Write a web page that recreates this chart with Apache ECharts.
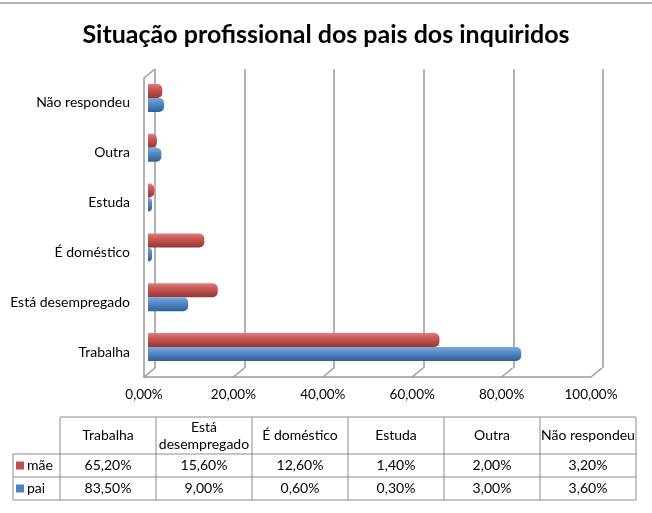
<!DOCTYPE html>
<html><head><meta charset="utf-8">
<script src="https://cdn.jsdelivr.net/npm/echarts@6/dist/echarts.min.js"></script>
<style>html,body{margin:0;padding:0;background:#fff}#c{width:652px;height:513px}</style>
</head><body><div id="c"></div>
<script>
const categories = ['Trabalha', 'Está desempregado', 'É doméstico', 'Estuda', 'Outra', 'Não respondeu'];
const maeValues = [65.2, 15.6, 12.6, 1.4, 2.0, 3.2];
const paiValues = [83.5, 9.0, 0.6, 0.3, 3.0, 3.6];
const xTicks = [0, 20, 40, 60, 80, 100];
const seriesNames = ['mãe', 'pai'];
const tableHeaders = ['Trabalha', 'Está\ndesempregado', 'É doméstico', 'Estuda', 'Outra', 'Não respondeu'];

const FONT = 'Lato';
const RED = '#C0504D', BLUE = '#4F81BD';
const fmt = v => v.toFixed(2).replace('.', ',') + '%';

function cyl(c1, c2, c3) {
  return {type: 'linear', x: 0, y: 0, x2: 0, y2: 1, colorStops: [
    {offset: 0, color: c1}, {offset: 0.35, color: c2}, {offset: 1, color: c3}]};
}

const chart = echarts.init(document.getElementById('c'), null, {renderer: 'canvas'});

const DX = 11, DY = -9;

const tbl = [];
const colX0 = 60, colW = 96, leftX = 13;
const rowY = [417, 454, 477, 500];
const lineStyle = {stroke: '#8c8c8c', lineWidth: 1};
function ln(x1, y1, x2, y2) { tbl.push({type: 'line', shape: {x1, y1, x2, y2}, style: lineStyle, silent: true}); }
const tableRight = colX0 + colW * categories.length;
ln(colX0, rowY[0], tableRight, rowY[0]);
ln(leftX, rowY[1], tableRight, rowY[1]);
ln(leftX, rowY[2], tableRight, rowY[2]);
ln(leftX, rowY[3], tableRight, rowY[3]);
ln(leftX, rowY[1], leftX, rowY[3]);
for (let i = 0; i <= categories.length; i++) ln(colX0 + colW * i, rowY[0], colX0 + colW * i, rowY[3]);
tableHeaders.forEach((h, i) => {
  tbl.push({type: 'text', x: colX0 + colW * i + colW / 2, y: (rowY[0] + rowY[1]) / 2,
    style: {text: h, font: '14px ' + FONT, fill: '#000', align: 'center', verticalAlign: 'middle', lineHeight: 17}, silent: true});
});
[maeValues, paiValues].forEach((vals, r) => {
  const yc = (rowY[r + 1] + rowY[r + 2]) / 2;
  tbl.push({type: 'rect', shape: {x: 16, y: yc - 4, width: 8, height: 8}, style: {fill: r === 0 ? RED : BLUE}, silent: true});
  tbl.push({type: 'text', x: 27, y: yc, style: {text: seriesNames[r], font: '14px ' + FONT, fill: '#000', verticalAlign: 'middle'}, silent: true});
  vals.forEach((v, i) => {
    tbl.push({type: 'text', x: colX0 + colW * i + colW / 2, y: yc,
      style: {text: fmt(v), font: '14px ' + FONT, fill: '#000', align: 'center', verticalAlign: 'middle'}, silent: true});
  });
});
tbl.push({type: 'line', shape: {x1: 0, y1: 3, x2: 652, y2: 3}, style: {stroke: '#999', lineWidth: 1.5}, silent: true});

const gridFront = {left: 144, top: 78, width: 447, height: 299};
const gridMid = {left: 148, top: 73, width: 447, height: 299};
const gridBack = {left: 155, top: 69, width: 448, height: 299};

chart.setOption({
  backgroundColor: '#fff',
  animation: false,
  title: {text: 'Situação profissional dos pais dos inquiridos', left: 'center', top: 17,
    textStyle: {fontFamily: FONT, fontWeight: 'bold', fontSize: 25, color: '#000'}},
  grid: [gridFront, gridMid, gridBack],
  xAxis: [
    {gridIndex: 0, type: 'value', min: 0, max: 100, interval: 20,
      axisLabel: {formatter: fmt, fontFamily: FONT, fontSize: 13.5, color: '#000', margin: 11},
      axisLine: {show: true, lineStyle: {color: '#999', width: 1.5}}, axisTick: {show: false}, splitLine: {show: false}},
    {gridIndex: 1, type: 'value', min: 0, max: 100, show: false},
    {gridIndex: 2, type: 'value', min: 0, max: 100, interval: 20, axisLabel: {show: false},
      axisLine: {show: false}, axisTick: {show: false}, splitLine: {show: true, lineStyle: {color: '#999', width: 1.5}}}
  ],
  yAxis: [
    {gridIndex: 0, type: 'category', data: categories, axisLine: {show: true, lineStyle: {color: '#999', width: 1.5}},
      axisTick: {show: false}, axisLabel: {fontFamily: FONT, fontSize: 14, color: '#000', margin: 14}},
    {gridIndex: 1, type: 'category', data: categories, show: false},
    {gridIndex: 2, type: 'category', data: categories, show: false}
  ],
  series: [
    {type: 'custom', xAxisIndex: 0, yAxisIndex: 0, data: xTicks.map(v => [v, 0]), silent: true, z: 1,
      renderItem: function (params, api) {
        const p = api.coord([api.value(0), 0]);
        const hb = api.size([0, 1])[1] / 2;
        const yb = p[1] + hb;
        const children = [{type: 'line', shape: {x1: p[0], y1: yb, x2: p[0] + DX, y2: yb + DY},
          style: {stroke: '#999', lineWidth: 1.5}}];
        if (api.value(0) === 0) {
          const yt = yb - api.size([0, 1])[1] * categories.length;
          children.push({type: 'line', shape: {x1: p[0], y1: yt, x2: p[0] + DX, y2: yt + DY}, style: {stroke: '#999', lineWidth: 1.5}});
        }
        return {type: 'group', children};
      }},
    {name: seriesNames[0], type: 'bar', xAxisIndex: 1, yAxisIndex: 1, data: maeValues, barWidth: 14, barGap: '0%', z: 3,
      barMinHeight: 4,
      itemStyle: {color: cyl('#E07E7B', '#CB5955', '#943532'), borderRadius: [0, 5, 5, 0]}},
    {name: seriesNames[1], type: 'bar', xAxisIndex: 1, yAxisIndex: 1, data: paiValues, barWidth: 14, barGap: '0%', z: 3,
      barMinHeight: 4,
      itemStyle: {color: cyl('#7FA8DA', '#5A8DCB', '#2F5F96'), borderRadius: [0, 5, 5, 0]}}
  ],
  graphic: tbl
});
</script></body></html>
